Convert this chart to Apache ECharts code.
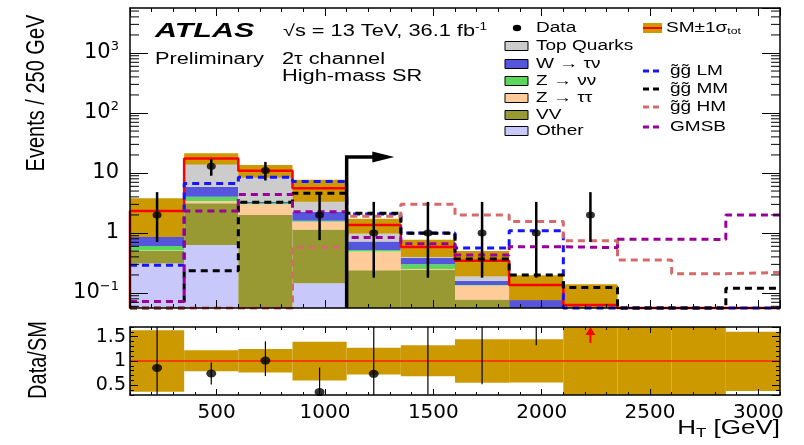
<!DOCTYPE html>
<html>
<head>
<meta charset="utf-8">
<script src="https://cdn.jsdelivr.net/npm/echarts@6/dist/echarts.min.js"></script>
<style>
  html, body { margin: 0; padding: 0; background: #fff; }
  #chart { width: 804px; height: 445px; }
</style>
</head>
<body>
<div id="chart"></div>
<script>
// bin edges in HT [GeV], 250 GeV bins
const binEdges = [100, 350, 600, 850, 1100, 1350, 1600, 1850, 2100, 2350, 2600, 2850, 3100];

// SM backgrounds (events / bin), stacked bottom -> top
const otherBkg   = [0.31, 0.63, 0.03, 0.145, 0.01, 0.005, 0, 0, 0, 0, 0, 0];
const dibosonBkg = [0.19, 2.49, 1.97, 1.0, 0.23, 0.237, 0.078, 0, 0, 0, 0, 0];
const zTauTauBkg = [0.01, 0.30, 1.0, 0.40, 0.25, 0.01, 0.055, 0, 0, 0, 0, 0];
const zNuNuBkg   = [0.10, 0.61, 0.15, 0.05, 0.03, 0.05, 0.003, 0, 0, 0, 0, 0];
const wTauNuBkg  = [0.26, 1.87, 0.15, 0.67, 0.20, 0.08, 0.024, 0.078, 0, 0, 0, 0];
const topBkg     = [1.46, 11.6, 7.6, 3.28, 0.64, 0.20, 0.185, 0.058, 0.063, 0.02, 0.02, 0.02];

// SM +- 1 sigma_tot band
const smLow  = [0.86, 13.8, 8.3, 3.33, 0.98, 0.40, 0.19, 0.076, 0.01, 0.005, 0.005, 0.0076];
const smHigh = [3.8, 21.4, 13.6, 7.75, 1.73, 0.77, 0.50, 0.197, 0.14, 0.05, 0.05, 0.032];

// signal benchmarks
const sigLM   = [0.29, 6.7, 8.5, 7.2, 2.07, 1.0, 0.56, 1.09, 0, 0, 0, 0];
const sigMM   = [0, 0.235, 3.25, 4.58, 2.13, 0.99, 0.37, 0.2, 0.124, 0, 0, 0.12];
const sigHM   = [0, 0, 0, 0.58, 1.9, 3.0, 2.0, 1.55, 0.74, 0.355, 0.21, 0.22];
const sigGMSB = [0.072, 2.33, 4.4, 2.27, 0.84, 0.66, 0.43, 0.59, 0.57, 0.79, 0.78, 2.0];

// data
const dataHT     = [225, 475, 725, 975, 1225, 1475, 1725, 1975, 2225];
const dataEvents = [2, 13, 11, 2, 1, 1, 1, 1, 2];
const dataLow    = [0.71, 9.0, 7.5, 0.76, 0.18, 0.18, 0.18, 0.18, 0.71];
const dataHigh   = [4.8, 17.0, 15.3, 4.8, 3.3, 3.3, 3.3, 3.3, 4.8];

// cut arrow and ratio overflow arrow
const srCut = 1100, srArrowLevel = 18.5, srArrowTip = 1320;
const overflowArrows = [[2225, 1.37]];

const yMin = Math.pow(10, -1.25), yMax = Math.pow(10, 3.75);
const rMin = 0.3, rMax = 1.7;
const SX = 1.36;
const FONT = 'Liberation Sans';
const GOLD = '#cc9900';

const clampY = v => Math.max(v, yMin);
const nBins = binEdges.length - 1;
const smTotal = topBkg.map((_, i) =>
  otherBkg[i] + dibosonBkg[i] + zTauTauBkg[i] + zNuNuBkg[i] + wTauNuBkg[i] + topBkg[i]);

const stackComponents = [
  { name: 'Other', values: otherBkg, color: '#c8c8fa' },
  { name: 'VV', values: dibosonBkg, color: '#999933' },
  { name: 'Z → ττ', values: zTauTauBkg, color: '#ffcc99' },
  { name: 'Z → νν', values: zNuNuBkg, color: '#5ad85a' },
  { name: 'W → τν', values: wTauNuBkg, color: '#5555dd' },
  { name: 'Top Quarks', values: topBkg, color: '#cccccc' }
];

function rectItem(color) {
  return function (params, api) {
    const top = api.value(3);
    if (top <= yMin && params.coordSys.height > 100) return null;
    const p0 = api.coord([api.value(0), api.value(2)]);
    const p1 = api.coord([api.value(1), top]);
    return {
      type: 'rect',
      shape: { x: p0[0], y: p1[1], width: p1[0] - p0[0], height: p0[1] - p1[1] },
      style: { fill: color }
    };
  };
}

const cum = new Array(nBins).fill(0);
const stackSeries = stackComponents.map(c => {
  const d = [];
  for (let i = 0; i < nBins; i++) {
    const b = cum[i], t = cum[i] + c.values[i];
    cum[i] = t;
    if (c.values[i] > 0) d.push([binEdges[i], binEdges[i + 1], clampY(b), clampY(t)]);
  }
  return {
    type: 'custom', name: c.name, xAxisIndex: 0, yAxisIndex: 0, clip: true, z: 2,
    renderItem: rectItem(c.color), data: d, silent: true
  };
});

function stepData(values, fromBottom) {
  const pts = fromBottom ? [[binEdges[0], yMin]] : [];
  values.forEach((v, i) => pts.push([binEdges[i], clampY(v)]));
  pts.push([binEdges[nBins], clampY(values[nBins - 1])]);
  return pts;
}

function stepSeries(name, values, color, dashed, width, fromBottom, z) {
  return {
    type: 'line', name: name, xAxisIndex: 0, yAxisIndex: 0, step: 'end',
    data: stepData(values, fromBottom), showSymbol: false, symbol: 'none',
    clip: false, z: z, silent: true,
    lineStyle: { color: color, width: width, type: dashed ? [7, 5] : 'solid', cap: 'butt' }
  };
}

function errorBarItem(width) {
  return function (params, api) {
    const a = api.coord([api.value(0), api.value(1)]);
    const b = api.coord([api.value(0), api.value(2)]);
    return { type: 'line', shape: { x1: a[0], y1: a[1], x2: b[0], y2: b[1] },
      style: { stroke: '#000', lineWidth: width } };
  };
}

// log minor ticks (2..9 x 10^k)
const logMinorTicks = [];
for (let e = -2; e <= 3; e++) {
  for (let m = 2; m <= 9; m++) {
    const v = m * Math.pow(10, e);
    if (v > yMin && v < yMax) logMinorTicks.push([binEdges[0], v]);
  }
}

const richFor = size => ({
  sup: { fontSize: Math.round(size * 0.65), fontFamily: FONT, padding: [0, 0, Math.round(size * 0.55), 0] },
  sub: { fontSize: Math.round(size * 0.65), fontFamily: FONT, padding: [Math.round(size * 0.5), 0, 0, 0] }
});

function label(x, y, text, size, extra) {
  const el = {
    type: 'text', x: x, y: y, scaleX: SX, z: 100, silent: true,
    style: { text: text, fontSize: size, fontFamily: FONT, fill: '#000',
      align: 'left', verticalAlign: 'middle', rich: richFor(size) }
  };
  return Object.assign(el, extra || {});
}

// legend geometry
const legX = 505, legTextX = 536, rowY = [28, 46, 64, 81, 98, 115, 131];
const legendBoxes = [
  ['Top Quarks', '#cccccc'], ['W → τν', '#5555dd'], ['Z → νν', '#5ad85a'],
  ['Z → ττ', '#ffcc99'], ['VV', '#999933'], ['Other', '#c8c8fa']
];
const legendLines = [
  ['g̃g̃ LM', '#1414ff', 71], ['g̃g̃ MM', '#000000', 89],
  ['g̃g̃ HM', '#d46a6a', 107], ['GMSB', '#990099', 127]
];

const graphics = [
  label(155, 31, 'ATLAS', 21, { scaleX: 1.45, style: { text: 'ATLAS', fontSize: 21, fontFamily: FONT,
    fontWeight: 'bold', fontStyle: 'italic', fill: '#000', align: 'left', verticalAlign: 'middle' } }),
  label(283, 32, '√s = 13 TeV, 36.1 fb{sup|-1}', 16),
  label(155, 60, 'Preliminary', 16),
  label(282, 60, '2τ channel', 16),
  label(282, 77, 'High-mass SR', 16),
  // data legend
  { type: 'circle', shape: { cx: 0, cy: 0, r: 3.2 }, x: 517, y: rowY[0], scaleX: 1.3, style: { fill: '#000' }, z: 100 },
  label(legTextX, rowY[0], 'Data', 14),
  // SM band legend
  { type: 'rect', shape: { x: 643, y: 23, width: 19, height: 10 }, style: { fill: GOLD }, z: 100 },
  { type: 'line', shape: { x1: 643, y1: 28, x2: 662, y2: 28 }, style: { stroke: '#ff0000', lineWidth: 2 }, z: 101 },
  label(666, 28, 'SM±1σ{sub|tot}', 14),
  // axis titles
  { type: 'text', x: 37, y: 93, rotation: Math.PI / 2, scaleY: 1.25, z: 100, silent: true,
    style: { text: 'Events / 250 GeV', fontSize: 20, fontFamily: FONT, fill: '#000', align: 'center', verticalAlign: 'middle' } },
  { type: 'text', x: 39, y: 360, rotation: Math.PI / 2, scaleY: 1.25, z: 100, silent: true,
    style: { text: 'Data/SM', fontSize: 20, fontFamily: FONT, fill: '#000', align: 'center', verticalAlign: 'middle' } },
  label(780, 428, 'H{sub|T} [GeV]', 20, { scaleX: 1.3 })
];
graphics[graphics.length - 1].style.align = 'right';

legendBoxes.forEach((b, k) => {
  const y = rowY[k + 1];
  graphics.push({ type: 'rect', shape: { x: legX, y: y - 4.5, width: 23, height: 9 },
    style: { fill: b[1], stroke: '#000', lineWidth: 1 }, z: 100 });
  graphics.push(label(legTextX, y, b[0], 14));
});
legendLines.forEach(l => {
  graphics.push({ type: 'line', shape: { x1: 643, y1: l[2], x2: 662, y2: l[2] },
    style: { stroke: l[1], lineWidth: 3, lineDash: [6, 4] }, z: 100 });
  graphics.push(label(670, l[2], l[0], 14));
});

function xAxisDef(grid, pos, minor, showLabel, len) {
  return {
    type: 'value', gridIndex: grid, position: pos, min: 100, max: 3100,
    interval: minor ? 100 : undefined, splitNumber: minor ? undefined : 6,
    z: 10, splitLine: { show: false },
    axisLine: { show: !minor, onZero: false, lineStyle: { color: '#000', width: 1.5 } },
    axisTick: { show: true, inside: true, length: len, lineStyle: { color: '#000', width: 1 } },
    axisLabel: { show: showLabel, margin: 8, fontSize: 20, fontFamily: 'DejaVu Sans', color: '#000',
      showMinLabel: false, showMaxLabel: false, formatter: v => String(v) }
  };
}

function ratioYAxis(pos, minor, showLabel, len) {
  return {
    type: 'value', gridIndex: 1, position: pos, min: rMin, max: rMax,
    interval: minor ? 0.1 : undefined, splitNumber: minor ? undefined : 3,
    z: 10, splitLine: { show: false },
    axisLine: { show: !minor, onZero: false, lineStyle: { color: '#000', width: 1.5 } },
    axisTick: { show: true, inside: true, length: len, lineStyle: { color: '#000', width: 1 } },
    axisLabel: { show: showLabel, margin: 4, fontSize: 19, fontFamily: 'DejaVu Sans', color: '#000',
      showMinLabel: false, showMaxLabel: false, formatter: v => String(v) }
  };
}

function logYAxis(pos, showLabel) {
  return {
    type: 'log', logBase: 10, gridIndex: 0, position: pos, min: yMin, max: yMax,
    z: 10, splitLine: { show: false },
    axisLine: { show: true, onZero: false, lineStyle: { color: '#000', width: 1.5 } },
    axisTick: { show: true, inside: true, length: 18, lineStyle: { color: '#000', width: 1 } },
    axisLabel: {
      show: showLabel, margin: 11, fontSize: 21, fontFamily: 'DejaVu Sans', color: '#000',
      showMinLabel: false, showMaxLabel: false,
      rich: { sup: { fontSize: 13, fontFamily: 'DejaVu Sans', padding: [0, 0, 12, 0] } },
      formatter: v => {
        const lg = Math.log10(v), e = Math.round(lg);
        if (Math.abs(lg - e) > 1e-6) return '';
        if (e === 0) return '1';
        if (e === 1) return '10';
        return '10{sup|' + (e < 0 ? '−' + (-e) : e) + '}';
      }
    }
  };
}

const option = {
  animation: false,
  backgroundColor: '#fff',
  grid: [
    { left: 130, top: 8, width: 650, height: 300 },
    { left: 130, top: 327, width: 650, height: 68 }
  ],
  xAxis: [
    xAxisDef(0, 'bottom', false, false, 8),
    xAxisDef(0, 'bottom', true, false, 4),
    xAxisDef(0, 'top', false, false, 8),
    xAxisDef(0, 'top', true, false, 4),
    xAxisDef(1, 'bottom', false, true, 6),
    xAxisDef(1, 'bottom', true, false, 3),
    xAxisDef(1, 'top', false, false, 6),
    xAxisDef(1, 'top', true, false, 3)
  ],
  yAxis: [
    logYAxis('left', true),
    logYAxis('right', false),
    ratioYAxis('left', false, true, 8),
    ratioYAxis('left', true, false, 4),
    ratioYAxis('right', false, false, 8),
    ratioYAxis('right', true, false, 4)
  ],
  graphic: graphics,
  series: [
    ...stackSeries,
    {
      type: 'custom', name: 'SM band', xAxisIndex: 0, yAxisIndex: 0, clip: true, z: 3, silent: true,
      renderItem: rectItem(GOLD),
      data: smLow.map((lo, i) => [binEdges[i], binEdges[i + 1], clampY(lo), clampY(smHigh[i])])
        .filter(d => d[3] > yMin)
    },
    stepSeries('SM', smTotal, '#ff0000', false, 2.5, true, 4),
    stepSeries('LM', sigLM, '#1414ff', true, 3, false, 5),
    stepSeries('MM', sigMM, '#000000', true, 3, false, 6),
    stepSeries('HM', sigHM, '#d46a6a', true, 3, false, 7),
    stepSeries('GMSB', sigGMSB, '#990099', true, 3, false, 8),
    {
      type: 'custom', name: 'Data errors', xAxisIndex: 0, yAxisIndex: 0, clip: true, z: 9, silent: true,
      renderItem: errorBarItem(2.5),
      data: dataHT.map((x, i) => [x, dataLow[i], dataHigh[i]])
    },
    {
      type: 'scatter', name: 'Data', xAxisIndex: 0, yAxisIndex: 0, z: 10, silent: true,
      symbol: 'circle', symbolSize: [9, 7], itemStyle: { color: '#000' },
      data: dataHT.map((x, i) => [x, dataEvents[i]])
    },
    {
      type: 'custom', name: 'log minor ticks', xAxisIndex: 0, yAxisIndex: 0, clip: false, z: 11, silent: true,
      renderItem: (params, api) => {
        const p = api.coord([api.value(0), api.value(1)]);
        const cs = params.coordSys;
        return { type: 'group', children: [
          { type: 'line', shape: { x1: cs.x, y1: p[1], x2: cs.x + 9, y2: p[1] }, style: { stroke: '#000', lineWidth: 1 } },
          { type: 'line', shape: { x1: cs.x + cs.width - 9, y1: p[1], x2: cs.x + cs.width, y2: p[1] }, style: { stroke: '#000', lineWidth: 1 } }
        ] };
      },
      data: logMinorTicks
    },
    {
      type: 'custom', name: 'SR cut', xAxisIndex: 0, yAxisIndex: 0, clip: false, z: 12, silent: true,
      renderItem: (params, api) => {
        const base = api.coord([api.value(0), yMin]);
        const corner = api.coord([api.value(0), api.value(1)]);
        const tip = api.coord([api.value(2), api.value(1)]);
        const headX = tip[0] - 22;
        return { type: 'group', children: [
          { type: 'polyline', shape: { points: [base, corner, [headX + 2, corner[1]]] },
            style: { stroke: '#000', lineWidth: 3.5, fill: null } },
          { type: 'polygon', shape: { points: [[headX, tip[1] - 5.5], tip, [headX, tip[1] + 5.5]] },
            style: { fill: '#000' } }
        ] };
      },
      data: [[srCut, srArrowLevel, srArrowTip]]
    },
    // ratio panel
    {
      type: 'custom', name: 'Ratio band', xAxisIndex: 4, yAxisIndex: 2, clip: true, z: 2, silent: true,
      renderItem: rectItem(GOLD),
      data: smLow.map((lo, i) => [binEdges[i], binEdges[i + 1], lo / smTotal[i], smHigh[i] / smTotal[i]])
    },
    {
      type: 'line', name: 'Unity', xAxisIndex: 4, yAxisIndex: 2, symbol: 'none', z: 3, silent: true,
      lineStyle: { color: '#ff2200', width: 1.5 }, data: [[binEdges[0], 1], [binEdges[nBins], 1]]
    },
    {
      type: 'custom', name: 'Ratio errors', xAxisIndex: 4, yAxisIndex: 2, clip: true, z: 4, silent: true,
      renderItem: errorBarItem(1.2),
      data: dataHT.map((x, i) => {
        const k = binEdges.findIndex(e => e > x) - 1;
        return [x, dataLow[i] / smTotal[k], dataHigh[i] / smTotal[k]];
      })
    },
    {
      type: 'scatter', name: 'Ratio', xAxisIndex: 4, yAxisIndex: 2, z: 5, clip: true, silent: true,
      symbol: 'circle', symbolSize: [10, 8], itemStyle: { color: '#000' },
      data: dataHT.map((x, i) => {
        const k = binEdges.findIndex(e => e > x) - 1;
        return [x, dataEvents[i] / smTotal[k]];
      }).filter(d => d[1] >= rMin && d[1] <= rMax)
    },
    {
      type: 'custom', name: 'Overflow', xAxisIndex: 4, yAxisIndex: 2, clip: false, z: 6, silent: true,
      renderItem: (params, api) => {
        const a = api.coord([api.value(0), api.value(1)]);
        const t = api.coord([api.value(0), rMax]);
        return { type: 'group', children: [
          { type: 'line', shape: { x1: a[0], y1: a[1], x2: a[0], y2: t[1] + 7 }, style: { stroke: '#ff0000', lineWidth: 2 } },
          { type: 'polygon', shape: { points: [[t[0] - 5, t[1] + 8], [t[0], t[1]], [t[0] + 5, t[1] + 8]] }, style: { fill: '#ff0000' } }
        ] };
      },
      data: overflowArrows
    }
  ]
};

const chart = echarts.init(document.getElementById('chart'));
chart.setOption(option);
</script>
</body>
</html>
